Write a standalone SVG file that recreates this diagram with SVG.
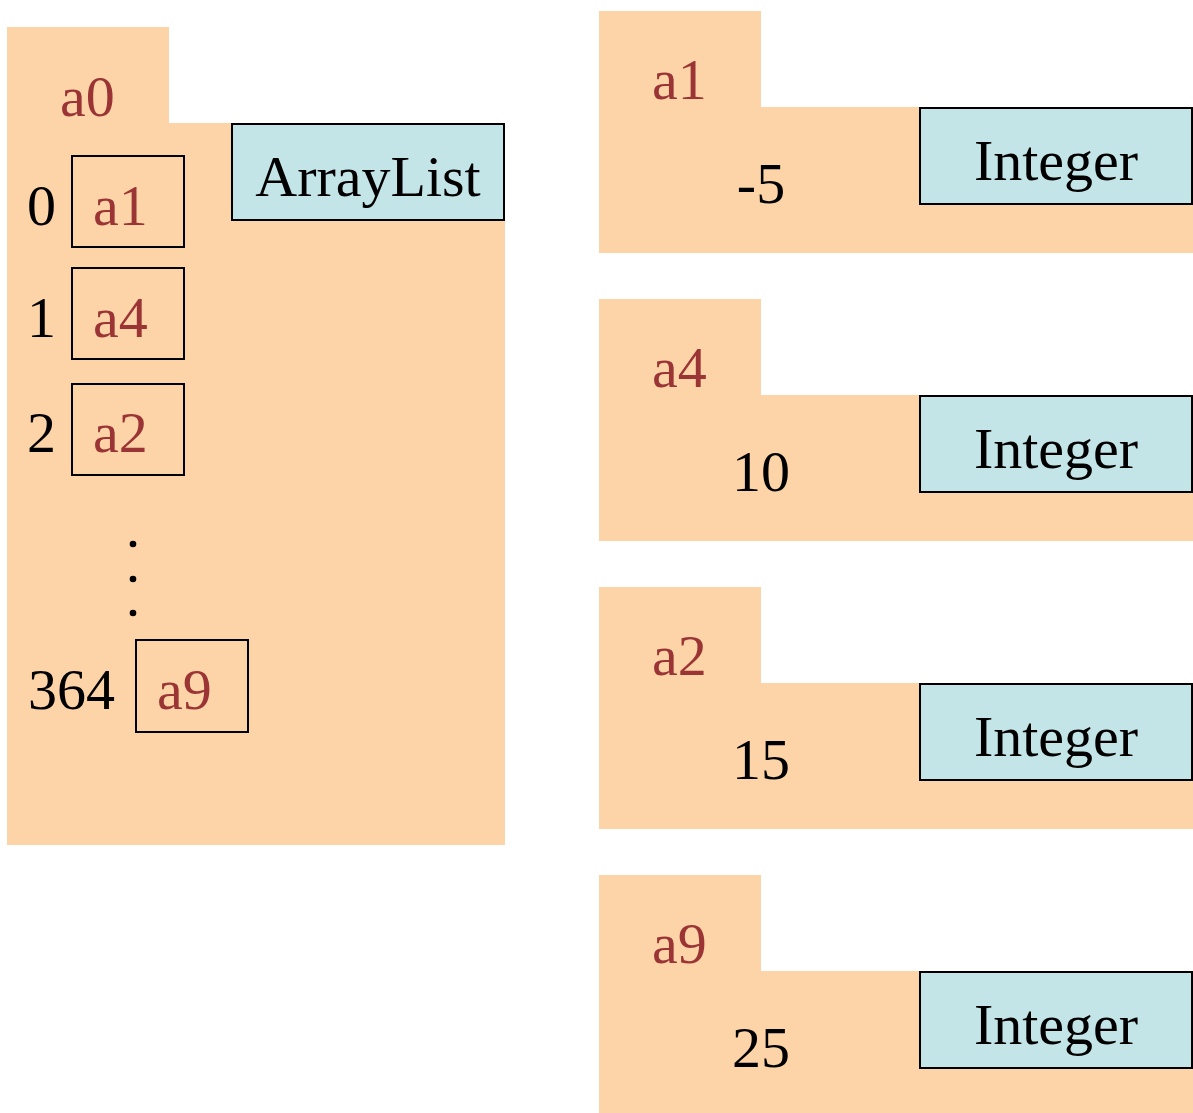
<svg xmlns="http://www.w3.org/2000/svg" width="1193" height="1113" viewBox="0 0 1193 1113">
<style>
.obj{fill:#FDD4A8;stroke:none}
.cls{fill:#C4E5E8;stroke:#000;stroke-width:2}
.slot{fill:none;stroke:#000;stroke-width:2}
text{font-family:"Liberation Serif","Times New Roman",serif;font-size:58px;fill:#000}
.ref{fill:#9B3535}
.mid{text-anchor:middle}
</style>
<rect width="1193" height="1113" fill="#fff"/>
<g id="a0">
<polygon class="obj" points="7,27 169,27 169,123 505,123 505,845 7,845"/>
<rect class="cls" x="232" y="124" width="272" height="96"/>
<text x="368" y="196" class="mid">ArrayList</text>
<text x="60" y="116" class="ref">a0</text>
<rect class="slot" x="72" y="156" width="112" height="91"/>
<text x="27" y="225">0</text>
<text x="93" y="225" class="ref">a1</text>
<rect class="slot" x="72" y="268" width="112" height="91"/>
<text x="27" y="337">1</text>
<text x="93" y="337" class="ref">a4</text>
<rect class="slot" x="72" y="384" width="112" height="91"/>
<text x="27" y="452">2</text>
<text x="93" y="452" class="ref">a2</text>
<circle cx="133" cy="544" r="3.3"/>
<circle cx="133" cy="579" r="3.3"/>
<circle cx="133" cy="613" r="3.3"/>
<rect class="slot" x="136" y="640" width="112" height="92"/>
<text x="28" y="709">364</text>
<text x="157" y="709" class="ref">a9</text>
</g>
<g id="a1">
<polygon class="obj" points="599,11 761,11 761,107 1193,107 1193,253 599,253"/>
<rect class="cls" x="920" y="108" width="272" height="96"/>
<text x="1056" y="180" class="mid">Integer</text>
<text x="652" y="99" class="ref">a1</text>
<text x="761" y="203" class="mid">-5</text>
</g>
<g id="a4">
<polygon class="obj" points="599,299 761,299 761,395 1193,395 1193,541 599,541"/>
<rect class="cls" x="920" y="396" width="272" height="96"/>
<text x="1056" y="468" class="mid">Integer</text>
<text x="652" y="387" class="ref">a4</text>
<text x="761" y="491" class="mid">10</text>
</g>
<g id="a2">
<polygon class="obj" points="599,587 761,587 761,683 1193,683 1193,829 599,829"/>
<rect class="cls" x="920" y="684" width="272" height="96"/>
<text x="1056" y="756" class="mid">Integer</text>
<text x="652" y="675" class="ref">a2</text>
<text x="761" y="779" class="mid">15</text>
</g>
<g id="a9">
<polygon class="obj" points="599,875 761,875 761,971 1193,971 1193,1113 599,1113"/>
<rect class="cls" x="920" y="972" width="272" height="96"/>
<text x="1056" y="1044" class="mid">Integer</text>
<text x="652" y="963" class="ref">a9</text>
<text x="761" y="1067" class="mid">25</text>
</g>
<g id="connectors"/>
</svg>
